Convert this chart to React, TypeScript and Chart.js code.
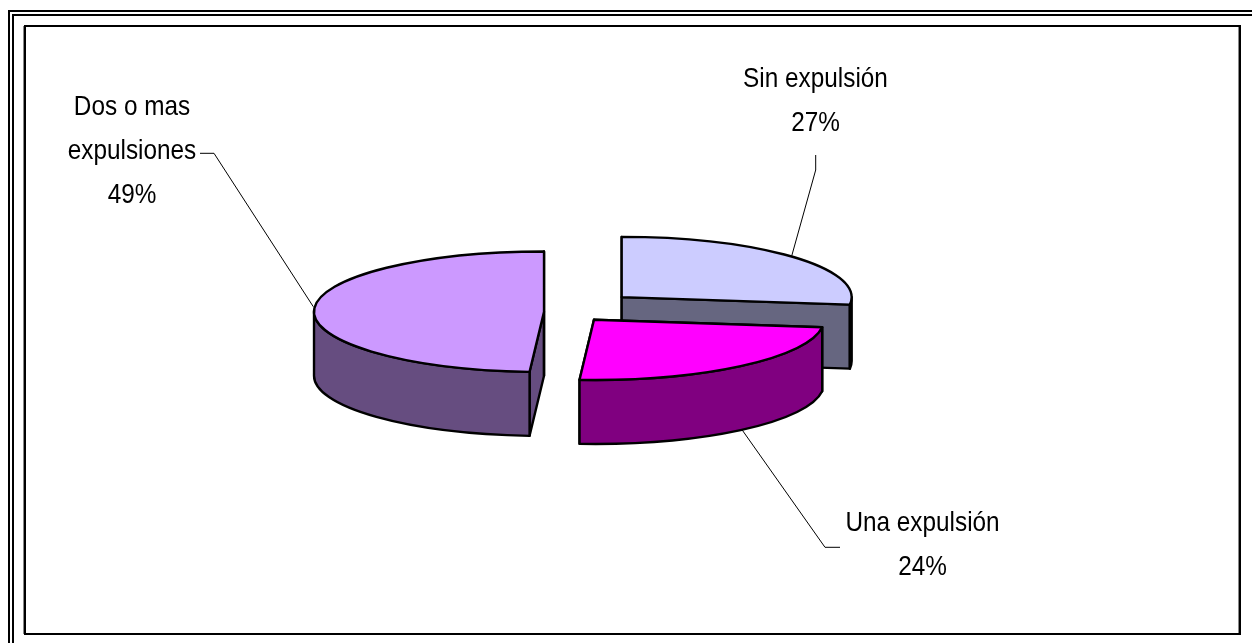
import React, { useEffect, useRef } from "react";
import { Chart, registerables } from "chart.js";

Chart.register(...registerables);

const categories = ["Sin expulsión", "Una expulsión", "Dos o mas expulsiones"];
const shares = [27, 24, 49];
const explode = [58.5, 25.4, 33.8];
const topColors = ["#CCCCFF", "#FF00FF", "#CC99FF"];
const wallColors = ["#666680", "#800080", "#664D80"];
const labelLines = [["Sin expulsión", "27%"], ["Una expulsión", "24%"], ["Dos o mas", "expulsiones", "49%"]];

const SQUASH = 0.262;
const EXPLODE_SQUASH = 0.388;
const DEPTH = 64;
const RADIUS = 230;

// label anchors: centre x, first baseline, leader polyline
const labelLayout = [
  { x: 815.5, y: 87, gap: 44, leader: [[815.7, 155], [815.7, 170], [791.7, 256]] },
  { x: 922.5, y: 531, gap: 44, leader: [[840, 547.3], [825, 547.3], [741.7, 429.3]] },
  { x: 132, y: 115, gap: 44, leader: [[200, 153.3], [214, 153.3], [313.3, 306.7]] },
];

const pie3d = {
  id: "pie3d",
  beforeDraw(chart: any) {
    const ctx = chart.ctx;
    ctx.save();
    ctx.fillStyle = "#fff";
    ctx.fillRect(0, 0, chart.width, chart.height);
    ctx.strokeStyle = "#000";
    ctx.lineWidth = 2;
    ctx.strokeRect(9, 11, chart.width + 20, chart.height);
    ctx.strokeRect(13, 15, chart.width + 20, chart.height);
    ctx.strokeStyle = "#888";
    ctx.lineWidth = 1;
    ctx.beginPath();
    ctx.moveTo(23.5, 26);
    ctx.lineTo(23.5, 634);
    ctx.moveTo(1238.5, 27);
    ctx.lineTo(1238.5, 633);
    ctx.stroke();
    ctx.strokeStyle = "#000";
    ctx.lineWidth = 2;
    ctx.strokeRect(25, 26, 1240 - 25, 634 - 26);
    ctx.restore();
  },
  beforeDatasetDraw(chart: any, args: any) {
    const ctx = chart.ctx;
    const arcs = args.meta.data;
    arcs.forEach((arc: any, i: number) => {
      const { x, y, startAngle, endAngle, outerRadius } = arc;
      const mid = (startAngle + endAngle) / 2;
      const off = explode[i];
      const cx = x + Math.cos(mid) * off;
      const cy = y + Math.sin(mid) * off * EXPLODE_SQUASH;
      const rx = outerRadius;
      const ry = outerRadius * SQUASH;
      const px = (a: number) => cx + Math.cos(a) * rx;
      const py = (a: number) => cy + Math.sin(a) * ry;

      ctx.save();
      ctx.lineJoin = "round";
      ctx.lineWidth = 2.4;
      ctx.strokeStyle = "#000";
      ctx.fillStyle = wallColors[i];

      // cut faces
      [startAngle, endAngle].forEach((a: number) => {
        ctx.beginPath();
        ctx.moveTo(cx, cy);
        ctx.lineTo(px(a), py(a));
        ctx.lineTo(px(a), py(a) + DEPTH);
        ctx.lineTo(cx, cy + DEPTH);
        ctx.closePath();
        ctx.fill();
        ctx.stroke();
      });

      // outer wall: front half of the rim only
      const a0 = Math.max(startAngle, 0);
      const a1 = Math.min(endAngle, Math.PI);
      if (a1 > a0) {
        ctx.beginPath();
        ctx.ellipse(cx, cy, rx, ry, 0, a0, a1);
        ctx.ellipse(cx, cy + DEPTH, rx, ry, 0, a1, a0, true);
        ctx.closePath();
        ctx.fill();
        ctx.stroke();
      }

      // top face, filled by the library's arc element under a squash transform
      ctx.save();
      ctx.translate(cx - x, cy);
      ctx.scale(1, SQUASH);
      ctx.translate(0, -y);
      arc.draw(ctx);
      ctx.restore();

      // even outline of the top face
      ctx.beginPath();
      ctx.moveTo(cx, cy);
      ctx.ellipse(cx, cy, rx, ry, 0, startAngle, endAngle);
      ctx.closePath();
      ctx.stroke();
      ctx.restore();
    });
    return false;
  },
  afterDatasetsDraw(chart: any) {
    const ctx = chart.ctx;
    ctx.save();
    labelLayout.forEach((l, i) => {
      ctx.beginPath();
      l.leader.forEach((p, k) => (k ? ctx.lineTo(p[0], p[1]) : ctx.moveTo(p[0], p[1])));
      ctx.strokeStyle = "#000";
      ctx.lineWidth = 1;
      ctx.stroke();
      labelLines[i].forEach((t, k) => {
        ctx.save();
        ctx.translate(l.x, l.y + k * l.gap);
        ctx.scale(0.885, 1);
        ctx.font = '27.5px "Liberation Sans"';
        ctx.textAlign = "center";
        ctx.textBaseline = "alphabetic";
        ctx.fillStyle = "#000";
        ctx.fillText(t, 0, 0);
        ctx.restore();
      });
    });
    ctx.restore();
  },
};

export default function App() {
  const ref = useRef<HTMLCanvasElement>(null);
  useEffect(() => {
    document.body.style.margin = "0";
    const chart = new Chart(ref.current as HTMLCanvasElement, {
      type: "pie",
      data: {
        labels: categories,
        datasets: [
          {
            data: shares,
            backgroundColor: topColors,
            borderWidth: 0,
          } as any,
        ],
      },
      options: {
        responsive: false,
        animation: false,
        radius: RADIUS,
        layout: { padding: { right: 96.4, bottom: 18.8 } },
        plugins: { legend: { display: false }, tooltip: { enabled: false } },
      } as any,
      plugins: [pie3d],
    });
    return () => chart.destroy();
  }, []);
  return <canvas ref={ref} width={1252} height={643} style={{ display: "block" }} />;
}
